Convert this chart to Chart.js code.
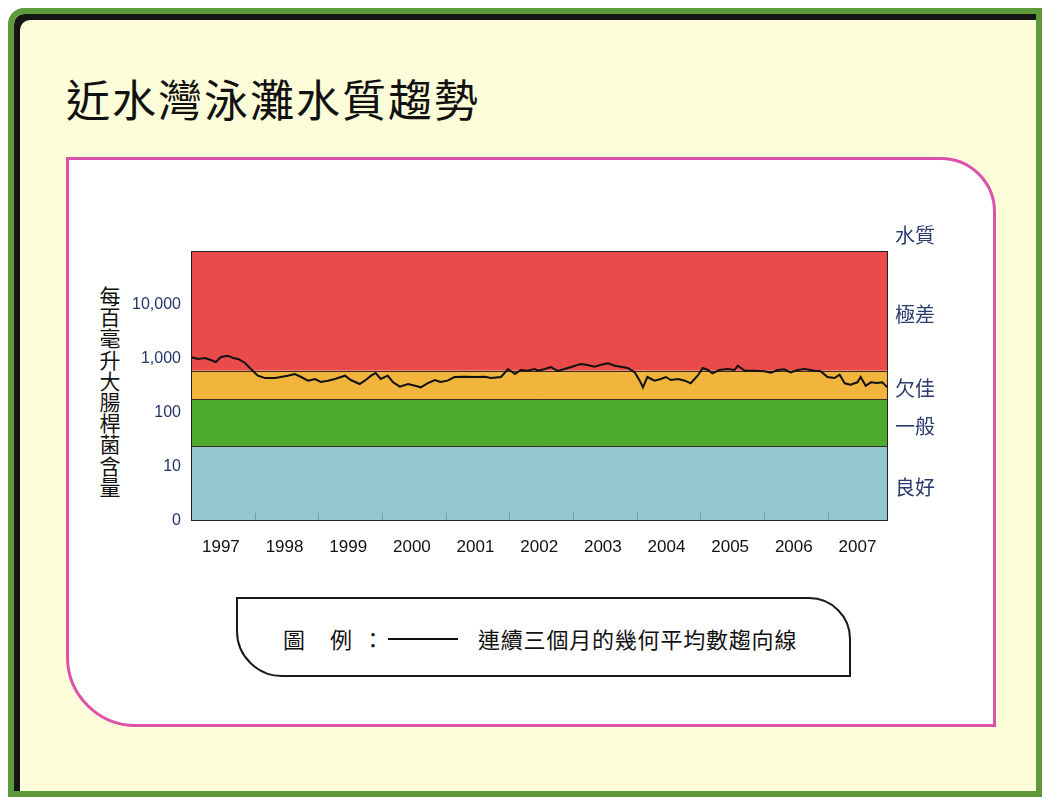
<!DOCTYPE html>
<html>
<head>
<meta charset="utf-8">
<script src="https://cdn.jsdelivr.net/npm/chart.js@4.4.1/dist/chart.umd.min.js"></script>
<style>
  html, body { margin: 0; padding: 0; background: #fff; }
  body { width: 1044px; height: 798px; position: relative; overflow: hidden;
         font-family: "Noto Sans CJK TC", "Noto Sans", sans-serif; }
  #frame { position: absolute; left: 8px; top: 8px; width: 1034px; height: 789px; box-sizing: border-box;
           border: 6px solid #5c9a3c; border-top-left-radius: 16px;
           background: #fefdd9; box-shadow: inset 6px 6px 0 #141414; }
  #title { position: absolute; left: 66px; top: 70px; font-size: 44px; letter-spacing: 2px; color: #111; line-height: 56px; }
  #panel { position: absolute; left: 66px; top: 157px; width: 930px; height: 570px; box-sizing: border-box;
           border: 3px solid #dc52a8; border-radius: 0 55px 0 70px; background: #fff; }
  #ytitle { position: absolute; left: 98px; top: 285px; width: 24px; font-size: 21px; line-height: 21.2px;
            color: #111; text-align: center; }
  #legend { position: absolute; left: 236px; top: 597px; width: 615px; height: 80px; box-sizing: border-box;
            border: 2px solid #1a1a1a; border-radius: 0 42px 0 46px; }
  #legend span { position: absolute; top: 24px; font-size: 22px; line-height: 30px; color: #111; }
  #legend .ln { top: 39px; height: 0; border-top: 2px solid #111; }
  canvas { position: absolute; left: 0; top: 0; z-index: 5; }
</style>
</head>
<body>
<div id="frame"></div>
<div id="title">近水灣泳灘水質趨勢</div>
<div id="panel"></div>
<div id="ytitle">每百毫升大腸桿菌含量</div>
<div id="legend">
  <span style="left:45px">圖</span>
  <span style="left:92px">例</span>
  <span style="left:124px">：</span>
  <span class="ln" style="left:150px;width:70px"></span>
  <span style="left:240px;letter-spacing:0.8px">連續三個月的幾何平均數趨向線</span>
</div>
<canvas id="chart" width="1044" height="798"></canvas>
<script>
// decimal year of each reading
const years = [
  1997.00, 1997.11, 1997.22, 1997.31, 1997.39, 1997.47, 1997.58, 1997.66, 1997.74, 1997.85,
  1997.94, 1998.05, 1998.16, 1998.32, 1998.41, 1998.52, 1998.63, 1998.73, 1998.84, 1998.95,
  1999.04, 1999.15, 1999.26, 1999.42, 1999.51, 1999.65, 1999.73, 1999.83, 1999.90, 1999.98,
  2000.09, 2000.17, 2000.28, 2000.41, 2000.52, 2000.61, 2000.72, 2000.83, 2000.92, 2001.03,
  2001.14, 2001.30, 2001.46, 2001.62, 2001.71, 2001.87, 2001.98, 2002.09, 2002.18, 2002.29,
  2002.40, 2002.45, 2002.56, 2002.65, 2002.76, 2002.87, 2002.97, 2003.12, 2003.23, 2003.34,
  2003.44, 2003.55, 2003.66, 2003.75, 2003.86, 2003.97, 2004.05, 2004.10, 2004.17, 2004.28,
  2004.38, 2004.46, 2004.54, 2004.65, 2004.76, 2004.85, 2004.96, 2005.04, 2005.12, 2005.19,
  2005.30, 2005.43, 2005.54, 2005.59, 2005.70, 2005.85, 2006.01, 2006.11, 2006.22, 2006.32,
  2006.42, 2006.53, 2006.64, 2006.80, 2006.89, 2007.00, 2007.11, 2007.19, 2007.27, 2007.36,
  2007.47, 2007.52, 2007.60, 2007.68, 2007.78, 2007.86, 2007.94
];
// E. coli count per 100 mL (3-month geometric mean)
const counts = [
  1075, 1000, 1044, 958, 880, 1089, 1151, 1044, 1000, 843,
  653, 491, 445, 445, 464, 491, 527, 464, 397, 426,
  375, 397, 426, 491, 408, 344, 397, 491, 551, 426,
  491, 375, 307, 344, 320, 299, 359, 408, 375, 397,
  464, 470, 464, 470, 445, 464, 653, 527, 626, 607,
  653, 607, 653, 711, 600, 653, 711, 808, 774, 720,
  784, 832, 751, 720, 681, 567, 397, 299, 464, 397,
  426, 464, 408, 426, 397, 355, 491, 681, 626, 543,
  626, 653, 626, 751, 607, 607, 592, 558, 626, 645,
  567, 626, 653, 607, 592, 464, 445, 512, 355, 334,
  370, 464, 320, 370, 359, 370, 299
];

const tickYears = [1997, 1998, 1999, 2000, 2001, 2002, 2003, 2004, 2005, 2006, 2007];
const yTicks = [1, 10, 100, 1000, 10000];
const yTickLabels = ['0', '10', '100', '1,000', '10,000'];

// water quality grades (bottom to top)
const bandLimits = [1, 24, 180, 610, 100000];
const bandNames = ['良好', '一般', '欠佳', '極差'];
const bandColors = ['#92c8cd', '#4eab2f', '#f1b43d', '#e94b4b'];

const bandsPlugin = {
  id: 'bands',
  beforeDatasetsDraw(chart) {
    const { ctx, chartArea: a, scales: { x, y } } = chart;
    ctx.save();
    bandLimits.slice(0, -1).forEach((lo, i) => {
      const bottom = y.getPixelForValue(lo);
      const top = y.getPixelForValue(bandLimits[i + 1]);
      ctx.fillStyle = bandColors[i];
      ctx.fillRect(a.left, top, a.right - a.left, bottom - top);
    });
    // boundaries between grades
    ctx.strokeStyle = '#3a2a22';
    ctx.lineWidth = 1;
    bandLimits.slice(1, -1).forEach(v => {
      const py = Math.round(y.getPixelForValue(v)) + 0.5;
      ctx.beginPath(); ctx.moveTo(a.left, py); ctx.lineTo(a.right, py); ctx.stroke();
    });
    // faint year ticks inside bottom edge
    ctx.strokeStyle = 'rgba(40,90,95,0.35)';
    tickYears.slice(1).forEach(yr => {
      const px = Math.round(x.getPixelForValue(yr)) + 0.5;
      ctx.beginPath(); ctx.moveTo(px, a.bottom); ctx.lineTo(px, a.bottom - 8); ctx.stroke();
    });
    ctx.restore();
  },
  afterDatasetsDraw(chart) {
    const { ctx, chartArea: a, scales: { y } } = chart;
    ctx.save();
    ctx.strokeStyle = '#222';
    ctx.lineWidth = 1;
    ctx.strokeRect(a.left + 0.5, a.top + 0.5, a.right - a.left - 1, a.bottom - a.top - 1);
    ctx.fillStyle = '#2a3b6e';
    ctx.font = '20px "Noto Sans CJK TC"';
    ctx.textBaseline = 'middle';
    bandNames.forEach((name, i) => {
      const mid = (y.getPixelForValue(bandLimits[i]) + y.getPixelForValue(bandLimits[i + 1])) / 2;
      ctx.fillText(name, a.right + 7, mid + 4);
    });
    ctx.fillText('水質', a.right + 7, a.top - 16);
    ctx.restore();
  }
};

new Chart(document.getElementById('chart'), {
  type: 'line',
  data: {
    datasets: [{
      label: '連續三個月的幾何平均數趨向線',
      data: years.map((yr, i) => ({ x: yr, y: counts[i] })),
      borderColor: '#111',
      borderWidth: 2,
      pointRadius: 0,
      tension: 0
    }]
  },
  options: {
    responsive: false,
    devicePixelRatio: 1,
    animation: false,
    layout: { padding: { left: 0, top: 251, right: 156, bottom: 228 } },
    plugins: { legend: { display: false }, tooltip: { enabled: false } },
    scales: {
      x: {
        type: 'linear',
        min: 1997,
        max: 2007.95,
        grid: { display: false, drawTicks: false },
        border: { display: false },
        afterBuildTicks: s => { s.ticks = tickYears.map(v => ({ value: v + 0.47 })); },
        afterFit: s => { s.height = 49; },
        ticks: {
          padding: 16,
          color: '#111',
          font: { family: 'Liberation Sans', size: 17 },
          callback: v => String(Math.floor(v)),
          maxRotation: 0
        }
      },
      y: {
        type: 'logarithmic',
        min: 1,
        max: 100000,
        grid: { display: false, drawTicks: false },
        border: { display: false },
        afterBuildTicks: s => { s.ticks = yTicks.map(v => ({ value: v })); },
        afterFit: s => { s.width = 191; },
        ticks: {
          padding: 10,
          color: '#24356b',
          font: { family: 'Liberation Sans', size: 16 },
          callback: v => yTickLabels[yTicks.indexOf(v)]
        }
      }
    }
  },
  plugins: [bandsPlugin]
});
</script>
</body>
</html>
